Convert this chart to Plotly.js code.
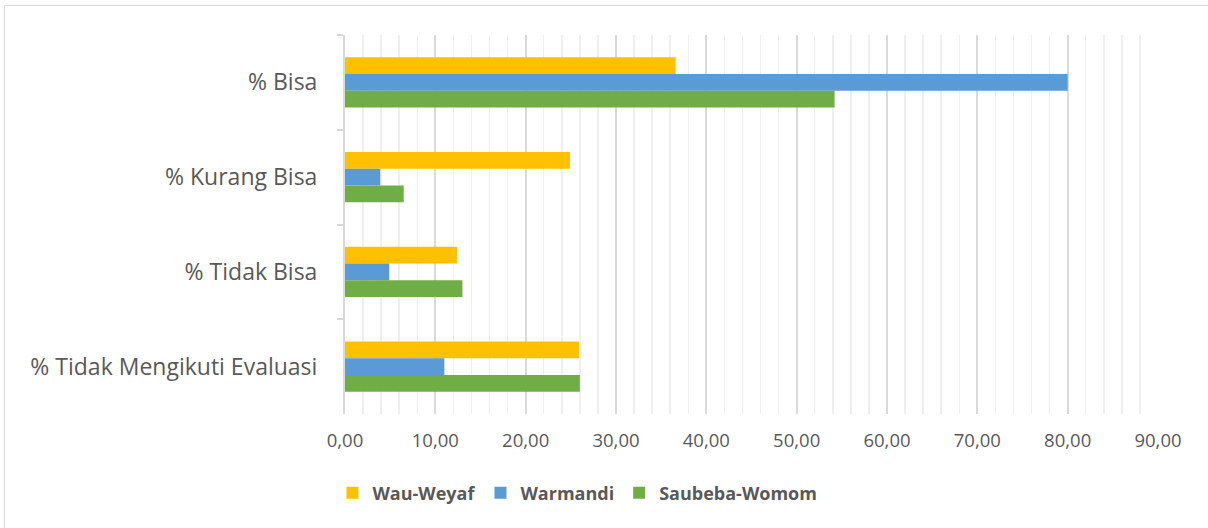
<!DOCTYPE html>
<html><head><meta charset="utf-8">
<script src="https://cdn.plot.ly/plotly-3.0.1.min.js"></script>
<style>
html,body{margin:0;padding:0;background:#fff;overflow:hidden;}
#wrap{position:relative;width:1208px;height:528px;}
#frame{position:absolute;left:4px;top:5px;width:1220px;height:540px;border:1px solid #d9d9d9;box-sizing:border-box;pointer-events:none;}
#chart{position:absolute;left:0;top:0;width:1208px;height:528px;}
</style></head>
<body><div id="wrap"><div id="chart"></div><div id="frame"></div></div>
<script>
const categories = ['% Bisa', '% Kurang Bisa', '% Tidak Bisa', '% Tidak Mengikuti Evaluasi'];
const seriesNames = ['Wau-Weyaf', 'Warmandi', 'Saubeba-Womom'];
const wauWeyaf = [36.6, 24.9, 12.4, 25.9];
const warmandi = [80.0, 3.9, 4.9, 11.0];
const saubebaWomom = [54.2, 6.5, 13.0, 26.0];
const colors = ['#FFC000', '#5B9BD5', '#70AD47'];
const tickVals = [0, 10, 20, 30, 40, 50, 60, 70, 80, 90];

const seriesValues = [wauWeyaf, warmandi, saubebaWomom];
const traces = seriesValues.map((vals, i) => ({
  type: 'bar', orientation: 'h', name: seriesNames[i],
  x: vals, y: categories,
  marker: {color: colors[i]},
  hoverinfo: 'x+y'
}));

const layout = {
  width: 1208, height: 528,
  margin: {l: 345, r: 50, t: 35, b: 114},
  paper_bgcolor: 'rgba(0,0,0,0)', plot_bgcolor: '#fff',
  separators: ',.',
  barmode: 'group', bargap: 0.47, bargroupgap: 0,
  font: {family: 'Open Sans, sans-serif', color: '#595959'},
  xaxis: {
    range: [0, 90], tickvals: tickVals, tickformat: '.2f',
    showgrid: true, gridcolor: '#d9d9d9', gridwidth: 2,
    minor: {dtick: 2, showgrid: true, gridcolor: '#efefef', gridwidth: 1.5},
    zeroline: false, showline: false, ticks: '',
    tickfont: {size: 18.5, color: '#595959'}, ticklabelstandoff: 13, automargin: false
  },
  yaxis: {
    type: 'category', autorange: 'reversed',
    showline: true, linecolor: '#d9d9d9', linewidth: 2,
    ticks: 'outside', tickson: 'boundaries', ticklen: 6, tickcolor: '#d9d9d9', tickwidth: 2,
    showgrid: false, zeroline: false,
    tickfont: {size: 23, color: '#595959'}, ticklabelstandoff: 21, automargin: false
  },
  legend: {
    orientation: 'h', xref: 'container', yref: 'container',
    x: 0.478, xanchor: 'center', y: 0.066, yanchor: 'middle',
    font: {size: 18, color: '#595959', weight: 'bold'},
    itemwidth: 30, traceorder: 'normal'
  },
  showlegend: true
};
Plotly.newPlot('chart', traces, layout, {displayModeBar: false, staticPlot: true});
</script></body></html>
